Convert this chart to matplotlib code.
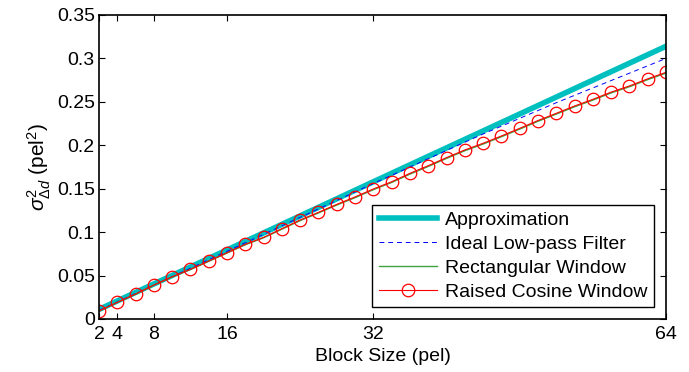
import numpy as np
import matplotlib.pyplot as plt

plt.rcParams['font.family'] = ['Liberation Sans', 'DejaVu Sans']
plt.rcParams['mathtext.fontset'] = 'custom'
plt.rcParams['mathtext.rm'] = 'Liberation Sans'
plt.rcParams['mathtext.it'] = 'Liberation Sans:italic'

# block sizes (every 2 pel)
block = list(range(2, 66, 2))

# approximation (straight line)
approx_x = [2, 16, 32, 48, 64]
approx_y = [0.011, 0.0795, 0.158, 0.236, 0.314]

# ideal low-pass filter
ideal_x = [2, 8, 16, 24, 32, 40, 44, 48, 52, 56, 60, 64]
ideal_y = [0.010, 0.039, 0.078, 0.117, 0.156, 0.194, 0.213, 0.231, 0.249, 0.266, 0.283, 0.300]

# raised cosine window
raised = [0.0092, 0.0192, 0.0288, 0.0391, 0.0487, 0.0572, 0.0668, 0.0763,
          0.0860, 0.0940, 0.1040, 0.1140, 0.1228, 0.1320, 0.1405, 0.1497,
          0.1580, 0.1677, 0.1765, 0.1858, 0.1946, 0.2023, 0.2107, 0.2195,
          0.2285, 0.2368, 0.2452, 0.2529, 0.2612, 0.2683, 0.2765, 0.2840]

# rectangular window (almost on top of raised cosine)
rect = [0.0091, 0.0190, 0.0286, 0.0388, 0.0484, 0.0569, 0.0664, 0.0759,
        0.0855, 0.0935, 0.1034, 0.1133, 0.1221, 0.1312, 0.1397, 0.1489,
        0.1572, 0.1668, 0.1756, 0.1849, 0.1937, 0.2014, 0.2098, 0.2186,
        0.2276, 0.2359, 0.2443, 0.2520, 0.2603, 0.2674, 0.2756, 0.2831]

xticks = [2, 4, 8, 16, 32, 64]

fig = plt.figure(figsize=(6.89, 3.72), dpi=100)
ax = fig.add_axes([0.1437, 0.1425, 0.8229, 0.8172])

ax.plot(approx_x, approx_y, color='#00BFBF', lw=4, label='Approximation')
ax.plot(ideal_x, ideal_y, '--', color='#0000FF', lw=0.7, dashes=(5, 4), label='Ideal Low-pass Filter')
ax.plot(block, rect, color='#3FA33F', lw=1.0, label='Rectangular Window')
ax.plot(block, raised, '-o', color='#FF0000', lw=0.8, ms=9, mfc='none', mew=0.9,
        label='Raised Cosine Window')

ax.set_xlim(2, 64)
ax.set_ylim(0, 0.35)
ax.set_xticks(xticks)
ax.set_xticklabels([str(t) for t in xticks])
ax.set_yticks(np.arange(0, 0.351, 0.05))
ax.set_yticklabels(['0', '0.05', '0.1', '0.15', '0.2', '0.25', '0.3', '0.35'])
ax.tick_params(direction='in', top=True, right=True, labelsize=14, length=4, width=0.8, pad=3)
ax.tick_params(axis='x', pad=5)
for s in ax.spines.values():
    s.set_linewidth(1.2)

ax.set_xlabel('Block Size (pel)', fontsize=14, labelpad=4)
ax.set_ylabel(r'$\sigma^2_{\mathit{\Delta d}}$ (pel$^2$)', fontsize=15, labelpad=3)

leg = ax.legend(loc='lower right', fontsize=14, fancybox=False, edgecolor='k',
                framealpha=1, borderaxespad=0.6, handlelength=3.0,
                handletextpad=0.4, labelspacing=0.32, borderpad=0.35)
leg.get_frame().set_linewidth(1.0)

fig.savefig('out.png', dpi=100)
